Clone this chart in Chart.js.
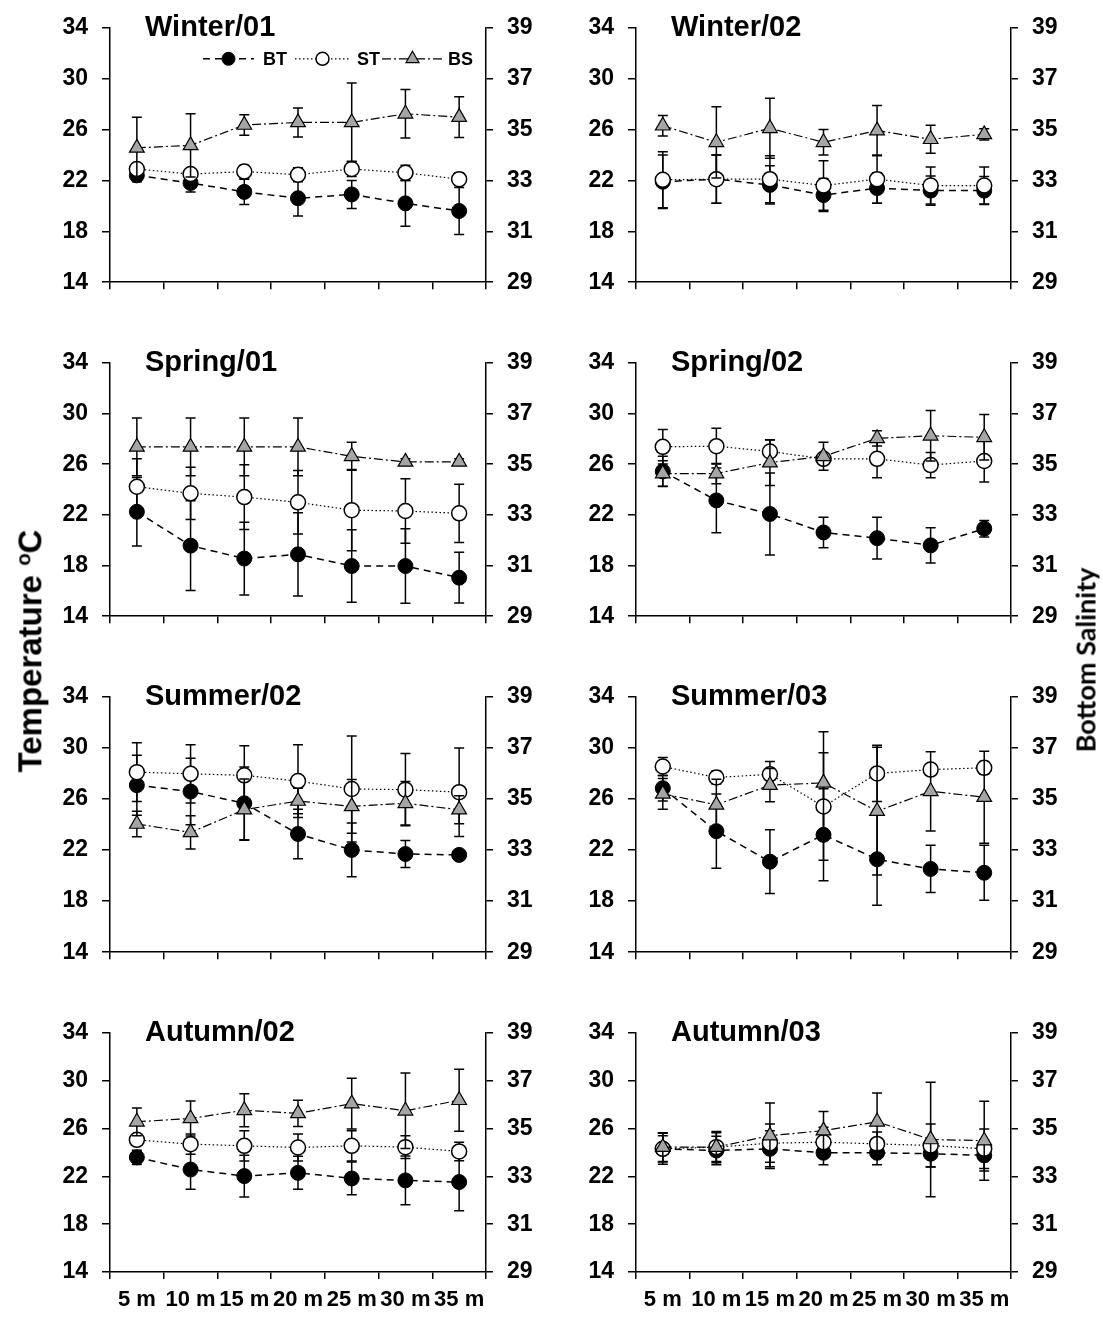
<!DOCTYPE html>
<html>
<head>
<meta charset="utf-8">
<title>Bottom temperature, surface temperature and bottom salinity by depth</title>
<script src="https://cdn.jsdelivr.net/npm/chart.js@4.4.1/dist/chart.umd.min.js"></script>
<style>
  html, body { margin: 0; padding: 0; background: #fff; }
  #page { position: relative; width: 1103px; height: 1317px; overflow: hidden; background: #fff; }
  #page canvas { position: absolute; }
  .axis-title { position: absolute; white-space: nowrap; font-weight: bold; color: #000;
                transform: translate(-50%, -50%) rotate(-90deg); line-height: 1; }
  .axis-title sup { font-size: 0.62em; vertical-align: 0.55em; }
</style>
</head>
<body>
<div id="page">
  <div class="axis-title" style="left:30px; top:651px; font-family:'Liberation Sans', Arial, sans-serif; font-size:33px;">Temperature <sup>o</sup>C</div>
  <div class="axis-title" style="left:1085px; top:660px; font-family:Lato, 'Open Sans', sans-serif; font-size:27px;">Bottom Salinity</div>
</div>
<script>
// ---- categories and axis ticks ----
const depthLabels = ['5 m', '10 m', '15 m', '20 m', '25 m', '30 m', '35 m'];
const tempTicks = [14, 18, 22, 26, 30, 34];      // temperature, left axis (°C)
const salTicks = [29, 31, 33, 35, 37, 39];       // bottom salinity, right axis
const seriesNames = ['BT', 'ST', 'BS'];
const panelTitles = ['Winter/01', 'Winter/02', 'Spring/01', 'Spring/02',
                     'Summer/02', 'Summer/03', 'Autumn/02', 'Autumn/03'];

// ---- Winter/01 ----
const w01BT   = [22.4, 21.8, 21.1, 20.6, 20.9, 20.2, 19.6];
const w01BTsd = [0.5, 0.7, 1.0, 1.4, 1.1, 1.8, 1.85];
const w01ST   = [22.9, 22.5, 22.7, 22.45, 22.9, 22.6, 22.1];
const w01STsd = [0.4, 0.3, 0.5, 0.55, 0.6, 0.6, 0.5];
const w01BS   = [34.28, 34.38, 35.18, 35.28, 35.28, 35.62, 35.49];
const w01BSsd = [1.2, 1.24, 0.4, 0.57, 1.55, 0.95, 0.8];

// ---- Winter/02 ----
const w02BT   = [21.9, 22.1, 21.65, 20.85, 21.4, 21.2, 21.2];
const w02BTsd = [2.1, 1.9, 1.5, 1.3, 1.2, 1.15, 1.1];
const w02ST   = [22.05, 22.1, 22.1, 21.6, 22.1, 21.6, 21.6];
const w02STsd = [2.2, 1.9, 1.85, 1.95, 1.9, 1.45, 1.45];
const w02BS   = [35.15, 34.5, 35.05, 34.5, 34.96, 34.62, 34.81];
const w02BSsd = [0.4, 1.4, 1.18, 0.5, 0.99, 0.55, 0.22];

// ---- Spring/01 ----
const sp01BT   = [22.24, 19.57, 18.55, 18.88, 17.96, 17.96, 17.04];
const sp01BTsd = [2.7, 3.55, 2.87, 3.28, 2.86, 2.94, 2.0];
const sp01ST   = [24.22, 23.7, 23.4, 22.99, 22.37, 22.3, 22.12];
const sp01STsd = [2.2, 2.06, 2.55, 2.5, 3.2, 2.54, 2.3];
const sp01BS   = [35.68, 35.68, 35.68, 35.68, 35.31, 35.09, 35.09];
const sp01BSsd = [1.14, 1.14, 1.14, 1.14, 0.55, 0.12, 0.12];

// ---- Spring/02 ----
const sp02BT   = [25.43, 23.14, 22.07, 20.61, 20.16, 19.59, 20.91];
const sp02BTsd = [1.2, 2.56, 3.23, 1.2, 1.65, 1.4, 0.65];
const sp02ST   = [27.37, 27.42, 27.0, 26.42, 26.42, 25.93, 26.25];
const sp02STsd = [1.36, 1.41, 0.91, 0.3, 1.49, 1.0, 1.65];
const sp02BS   = [34.63, 34.63, 35.06, 35.31, 36.02, 36.12, 36.06];
const sp02BSsd = [0.5, 0.4, 0.9, 0.55, 0.3, 1.0, 0.9];

// ---- Summer/02 ----
const su02BT   = [27.08, 26.58, 25.66, 23.26, 22.01, 21.69, 21.62];
const su02BTsd = [2.35, 2.6, 2.85, 1.94, 2.1, 1.05, 0];
const su02ST   = [28.1, 27.97, 27.85, 27.4, 26.78, 26.73, 26.53];
const su02STsd = [2.3, 2.28, 2.32, 2.85, 4.15, 2.83, 3.47];
const su02BS   = [34.02, 33.69, 34.58, 34.92, 34.71, 34.83, 34.58];
const su02BSsd = [0.5, 0.65, 1.2, 0.5, 1.05, 0.85, 0.55];

// ---- Summer/03 ----
const su03BT   = [26.84, 23.48, 21.09, 23.19, 21.28, 20.52, 20.22];
const su03BTsd = [1.0, 2.9, 2.5, 3.6, 3.6, 1.85, 2.15];
const su03ST   = [28.54, 27.68, 27.93, 25.41, 28.0, 28.3, 28.44];
const su03STsd = [0.7, 0.5, 1.0, 4.2, 2.2, 0.4, 0.5];
const su03BS   = [35.2, 34.77, 35.54, 35.63, 34.52, 35.3, 35.07];
const su03BSsd = [0.6, 1.0, 0.65, 2.0, 2.5, 1.55, 1.8];

// ---- Autumn/02 ----
const au02BT   = [23.59, 22.57, 22.02, 22.29, 21.82, 21.66, 21.52];
const au02BTsd = [0.6, 1.66, 1.74, 1.38, 1.37, 2.04, 2.4];
const au02ST   = [25.05, 24.69, 24.55, 24.41, 24.55, 24.44, 24.08];
const au02STsd = [0.3, 0.85, 1.27, 1.13, 1.27, 0.96, 0.77];
const au02BS   = [35.28, 35.42, 35.76, 35.63, 36.04, 35.74, 36.18];
const au02BSsd = [0.58, 0.73, 0.69, 0.55, 1.06, 1.58, 1.3];

// ---- Autumn/03 ----
const au03BT   = [24.3, 24.16, 24.3, 23.97, 23.97, 23.89, 23.75];
const au03BTsd = [1.1, 1.2, 1.5, 1.0, 1.0, 1.1, 1.3];
const au03ST   = [24.3, 24.44, 24.77, 24.85, 24.71, 24.58, 24.3];
const au03STsd = [1.3, 1.3, 1.6, 1.25, 1.0, 1.8, 1.65];
const au03BS   = [34.22, 34.22, 34.7, 34.91, 35.28, 34.54, 34.49];
const au03BSsd = [0.6, 0.6, 1.37, 0.8, 1.2, 2.39, 1.65];

const panelSeries = [
  [w01BT, w01BTsd, w01ST, w01STsd, w01BS, w01BSsd],
  [w02BT, w02BTsd, w02ST, w02STsd, w02BS, w02BSsd],
  [sp01BT, sp01BTsd, sp01ST, sp01STsd, sp01BS, sp01BSsd],
  [sp02BT, sp02BTsd, sp02ST, sp02STsd, sp02BS, sp02BSsd],
  [su02BT, su02BTsd, su02ST, su02STsd, su02BS, su02BSsd],
  [su03BT, su03BTsd, su03ST, su03STsd, su03BS, su03BSsd],
  [au02BT, au02BTsd, au02ST, au02STsd, au02BS, au02BSsd],
  [au03BT, au03BTsd, au03ST, au03STsd, au03BS, au03BSsd]
];

// ---- page layout (pixels) ----
const FONT = "'Liberation Sans', Arial, Helvetica, sans-serif";
const colLeft = [0, 560], colWidth = [560, 543];
const plotLeft = [110, 636], plotRight = [486, 1011];
const plotTop = [24, 359, 693, 1029], plotBottom = [294, 628, 964, 1272];
const PAGE_H = 1317;

// vertical error bars, drawn just under each series' own line and markers
const errorBarPlugin = {
  id: 'errorBars',
  beforeDatasetDraw(chart, args) {
    const ds = chart.data.datasets[args.index];
    const err = ds.errorBars;
    if (!err) return;
    const yScale = chart.scales[ds.yAxisID];
    const ctx = chart.ctx;
    ctx.save();
    ctx.strokeStyle = '#000';
    ctx.lineWidth = 1.5;
    ctx.setLineDash([]);
    args.meta.data.forEach((pt, i) => {
      const e = err[i];
      if (!e) return;
      const v = ds.data[i];
      const yHi = yScale.getPixelForValue(v + e);
      const yLo = yScale.getPixelForValue(v - e);
      const x = pt.x;
      ctx.beginPath();
      ctx.moveTo(x, yHi); ctx.lineTo(x, yLo);
      ctx.moveTo(x - 5, yHi); ctx.lineTo(x + 5, yHi);
      ctx.moveTo(x - 5, yLo); ctx.lineTo(x + 5, yLo);
      ctx.stroke();
    });
    ctx.restore();
  }
};

// season/year heading inside the top-left of each panel
const panelTitlePlugin = {
  id: 'panelTitle',
  afterDraw(chart, args, opts) {
    if (!opts.text) return;
    const { ctx, chartArea } = chart;
    ctx.save();
    ctx.font = 'bold 29px ' + FONT;
    ctx.fillStyle = '#000';
    ctx.textAlign = 'left';
    ctx.textBaseline = 'alphabetic';
    ctx.fillText(opts.text, chartArea.left + 35, chartArea.top + 8);
    ctx.restore();
  }
};

// series key: line sample with its marker, then the series name
const seriesKeyPlugin = {
  id: 'seriesKey',
  afterDatasetsDraw(chart, args, opts) {
    if (!opts.show) return;
    const { ctx, chartArea } = chart;
    const y = chartArea.top + 31;
    const lineStart = [93, 185, 272], lineEnd = [144, 240, 333], textX = [153, 247, 338];
    const keyRadius = [6.5, 6.5, 7.5];
    chart.data.datasets.forEach((ds, i) => {
      const x0 = chartArea.left + lineStart[i], x1 = chartArea.left + lineEnd[i];
      ctx.save();
      ctx.strokeStyle = ds.borderColor;
      ctx.lineWidth = ds.borderWidth;
      ctx.setLineDash(ds.borderDash || []);
      ctx.beginPath(); ctx.moveTo(x0, y); ctx.lineTo(x1, y); ctx.stroke();
      ctx.setLineDash([]);
      ctx.fillStyle = ds.pointBackgroundColor;
      ctx.strokeStyle = ds.pointBorderColor;
      ctx.lineWidth = ds.pointBorderWidth;
      Chart.helpers.drawPoint(ctx, {
        pointStyle: ds.pointStyle, radius: keyRadius[i], rotation: 0, borderWidth: ds.pointBorderWidth
      }, (x0 + x1) / 2, y);
      ctx.fillStyle = '#000';
      ctx.font = 'bold 18px ' + FONT;
      ctx.textAlign = 'left';
      ctx.textBaseline = 'middle';
      ctx.fillText(ds.label, chartArea.left + textX[i], y + 1);
      ctx.restore();
    });
  }
};

function makeDatasets(s) {
  return [
    { label: seriesNames[0], data: s[0], errorBars: s[1], yAxisID: 'y', order: 2,
      borderColor: '#000', borderWidth: 1.5, borderDash: [7, 5],
      pointStyle: 'circle', pointRadius: 7.5, pointBackgroundColor: '#000',
      pointBorderColor: '#000', pointBorderWidth: 1, tension: 0, fill: false },
    { label: seriesNames[1], data: s[2], errorBars: s[3], yAxisID: 'y', order: 1,
      borderColor: '#000', borderWidth: 1.2, borderDash: [1.5, 2.5],
      pointStyle: 'circle', pointRadius: 7.5, pointBackgroundColor: '#fff',
      pointBorderColor: '#000', pointBorderWidth: 1.5, tension: 0, fill: false },
    { label: seriesNames[2], data: s[4], errorBars: s[5], yAxisID: 'y1', order: 0,
      borderColor: '#000', borderWidth: 1.2, borderDash: [9, 3, 2, 3],
      pointStyle: 'triangle', pointRadius: 8.5, pointBackgroundColor: '#a5a5a5',
      pointBorderColor: '#000', pointBorderWidth: 1.2, tension: 0, fill: false }
  ];
}

const tickFont = { family: FONT, size: 23, weight: 'bold' };
const page = document.getElementById('page');

panelSeries.forEach((series, idx) => {
  const col = idx % 2, row = Math.floor(idx / 2);
  const isBottomRow = row === plotTop.length - 1;
  const top = plotTop[row] - 24;
  const bottom = isBottomRow ? PAGE_H : plotBottom[row] + 16;
  const width = colWidth[col], height = bottom - top;
  const yW = plotLeft[col] - colLeft[col];
  const y1W = colLeft[col] + width - plotRight[col];
  const xH = bottom - plotBottom[row];

  const canvas = document.createElement('canvas');
  canvas.width = width; canvas.height = height;
  canvas.style.left = colLeft[col] + 'px';
  canvas.style.top = top + 'px';
  canvas.style.width = width + 'px';
  canvas.style.height = height + 'px';
  page.insertBefore(canvas, page.firstChild);

  new Chart(canvas, {
    type: 'line',
    data: { labels: depthLabels, datasets: makeDatasets(series) },
    options: {
      responsive: false, animation: false, events: [],
      devicePixelRatio: 1,
      layout: { padding: { top: 24, left: 0, right: 0, bottom: 0 } },
      plugins: {
        legend: { display: false }, tooltip: { enabled: false },
        panelTitle: { text: panelTitles[idx] },
        seriesKey: { show: idx === 0 }
      },
      scales: {
        x: {
          type: 'category', offset: true,
          grid: { offset: true, drawOnChartArea: false, drawTicks: true, tickLength: 7, color: '#000', lineWidth: 1.5 },
          border: { display: true, color: '#000', width: 1.5 },
          ticks: { display: isBottomRow, color: '#000', font: { family: FONT, size: 22, weight: 'bold' },
                   padding: 8, maxRotation: 0, minRotation: 0, autoSkip: false },
          afterFit(s) { s.height = xH; }
        },
        y: {
          position: 'left',
          min: tempTicks[0], max: tempTicks[tempTicks.length - 1],
          grid: { drawOnChartArea: false, drawTicks: true, tickLength: 8, color: '#000', lineWidth: 1.5 },
          border: { display: true, color: '#000', width: 1.5 },
          ticks: { stepSize: tempTicks[1] - tempTicks[0], color: '#000', font: tickFont, padding: 14 },
          afterFit(s) { s.width = yW; }
        },
        y1: {
          position: 'right',
          min: salTicks[0], max: salTicks[salTicks.length - 1],
          grid: { drawOnChartArea: false, drawTicks: true, tickLength: 7, color: '#000', lineWidth: 1.5 },
          border: { display: true, color: '#000', width: 1.5 },
          ticks: { stepSize: salTicks[1] - salTicks[0], color: '#000', font: tickFont, padding: 14 },
          afterFit(s) { s.width = y1W; }
        }
      }
    },
    plugins: [errorBarPlugin, panelTitlePlugin, seriesKeyPlugin]
  });
});
</script>
</body>
</html>
